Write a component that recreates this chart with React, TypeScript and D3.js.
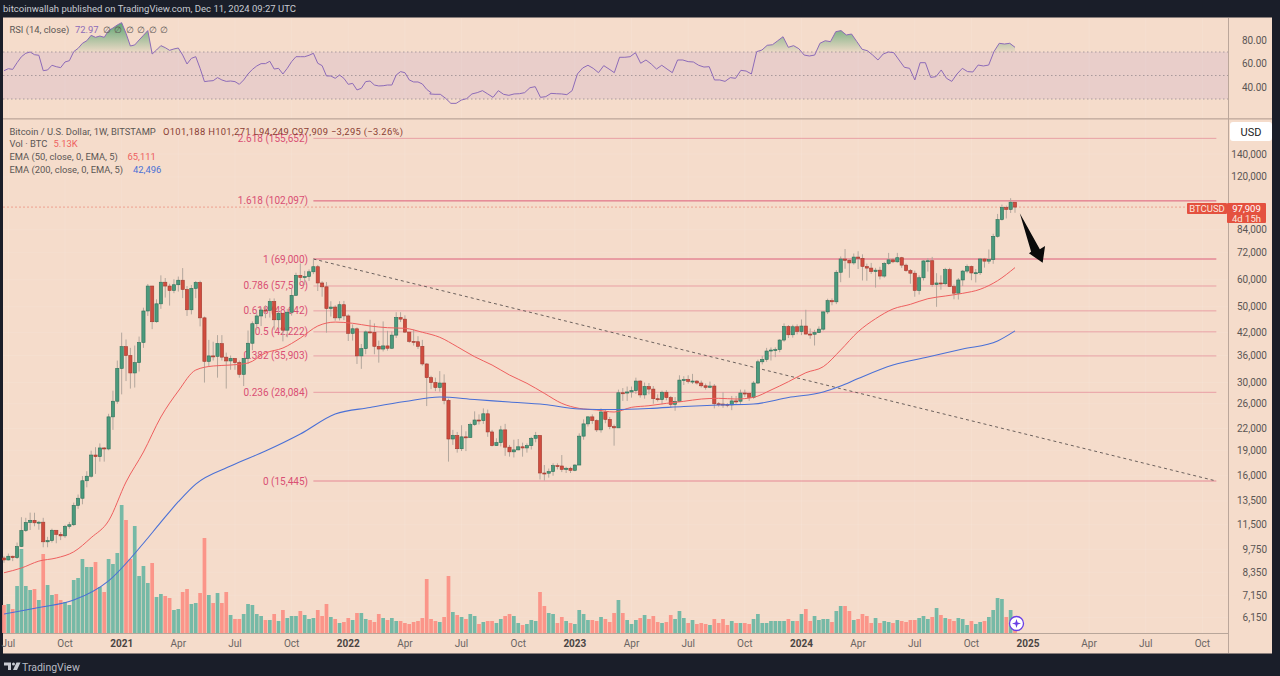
import React from "react";
import * as d3 from "d3";

const closes = [
9070,9300,9210,9930,11060,11680,11850,11650,11700,10250,
10330,11080,10780,10670,11380,11500,13100,13750,15470,15950,
18400,18200,19300,19170,23800,26450,33000,38200,36000,32000,
34300,39300,48600,57500,45200,51000,59000,57500,55800,58000,
59800,56200,49000,56600,58900,46400,34600,35900,35800,39000,
35600,34700,35300,34300,31700,35300,39100,44600,47000,48900,
48800,51800,45800,47800,42700,48200,54000,61800,60900,61300,
63300,65500,58700,57200,49400,49900,46400,50700,47000,41800,
43100,35900,37700,42200,42100,38300,37600,38400,37800,41300,
46500,46000,42150,39600,39500,38300,34000,31000,30000,29000,
29900,26600,20500,21000,19200,20800,20700,22600,23300,23200,
24300,21500,19600,20000,21800,19400,18800,19050,19450,19300,
19600,20600,21000,16300,16280,16450,17130,17090,16700,16830,
16600,17200,20900,22700,23800,23200,21800,24600,23400,22300,
22100,28000,27950,28150,28400,30300,27600,29200,28700,26900,
26750,28100,27100,25900,26400,30500,30600,30250,30300,29900,
29350,29050,29300,26000,25950,25900,25800,26500,26450,27950,
27900,27150,29900,34500,35050,37100,37350,37450,39950,43800,
41400,43700,42300,43900,41600,41550,42000,43000,48300,52100,
51700,63100,69000,68400,67200,69900,69300,65600,64900,63400,
64000,61500,66900,68600,67700,69600,66200,63800,62700,55850,
60800,68100,68200,58100,58700,58400,64200,57300,54800,59900,
63600,65600,62800,62900,69000,68000,68700,80400,90000,97700,
96400,101188,97909];
const highs = [
9300,9470,9340,10200,12100,12050,12480,12470,11800,12050,
10600,11200,10990,10950,11490,11720,13350,14100,15970,16500,
18950,19400,19900,19400,24300,28400,34800,42000,40100,37900,
38500,40900,49700,58300,57600,52600,61800,60700,58400,60200,
61300,64900,57500,57900,59500,59600,46800,40000,39500,41300,
41300,36700,36000,35200,34800,35400,42600,45300,48100,49800,
50500,52900,52900,48800,47900,49300,56500,62900,67000,63700,
64300,69000,66300,59400,59100,51900,50500,51900,52000,47500,
44400,43500,38900,42600,45800,44700,39800,45300,42500,42300,
48200,48200,47200,41500,42900,41000,40000,34200,31400,31000,
32400,31700,26900,21800,21500,22500,21600,22900,24700,24200,
25200,25000,21800,20600,22400,22700,19700,20400,20500,20000,
19900,20800,21500,21000,17200,16800,17400,17400,18400,17000,
17000,17300,21300,23400,23900,24200,23400,25200,25000,23800,
22600,28600,28900,29200,29200,31000,30500,30000,29900,29300,
27700,28400,28500,27400,27200,31500,31300,31500,31800,30500,
30400,29800,30200,29700,26300,28100,26100,27400,27400,28600,
28600,28000,30300,35000,35900,37900,38000,38000,40200,44700,
44200,44300,44400,45900,49000,43200,42800,43800,48500,52800,
52900,64000,70200,73800,68900,71600,72700,71200,66900,67200,
65000,65500,67700,71900,69500,71900,70000,66900,64500,63800,
61800,68400,69400,70000,62700,61800,65000,65000,58100,60700,
64100,66500,66000,64500,69500,69500,73600,81800,93500,99600,
98900,104000,101271];
const lows = [
8900,9040,9000,9130,9900,10950,11100,11380,11120,9880,
9880,10200,10150,10370,10530,11200,11400,12800,13200,14800,
15800,16200,17600,17600,19000,21800,26000,27700,30300,28800,
29000,32300,37900,47000,43000,44900,49300,53200,50400,54800,
55400,53000,47000,47500,53000,43800,30000,33400,34800,31000,
34800,28800,32700,32700,31000,29300,34000,37300,42800,43900,
46300,46500,42800,43300,39600,40700,47100,53900,59600,58000,
59500,62300,55600,53500,42000,46800,45500,45600,45700,39700,
39800,34000,32900,36300,41800,36300,34300,37000,37200,37600,
40500,45100,41900,39200,38500,37600,33600,25600,28700,28300,
28200,25900,17600,19700,18700,18900,18900,20700,22400,22600,
22700,20800,19500,19600,19500,18300,18200,18100,19000,18200,
18700,19100,20050,15600,15500,15800,16000,16700,16400,16300,
16300,16500,17300,20400,22300,22700,21500,21400,22800,21900,
19600,26600,26500,26500,27100,27800,27100,26900,27700,26000,
26400,25900,26600,25400,24800,26300,29500,29800,29700,29600,
29000,28600,28900,25200,25500,25300,25400,24900,26000,26000,
27200,26500,26900,29700,33900,34500,34800,35600,36800,39500,
40500,40600,41500,41300,41500,40300,38500,41900,42600,47600,
50500,50900,59000,64600,60800,66400,64500,59700,59600,62400,
56900,60100,60800,66300,67100,67300,65000,63300,58400,53500,
54300,59700,63400,57200,50000,56100,57800,57200,52600,52500,
57500,62700,59800,58900,62000,65100,66800,66800,79700,89400,
90700,94100,94249];
const firstOpen = 9190;

const volumes = [
28,29,24,47,84,47,43,44,33,79,48,38,39,33,31,28,53,55,74,66,66,71,46,41,74,69,80,128,113,74,
107,57,67,50,70,36,39,37,35,23,24,41,44,29,30,40,95,38,30,40,30,41,18,14,14,19,29,28,19,17,
13,13,19,12,23,15,17,17,22,18,14,15,23,17,29,16,14,
10,11,15,13,20,20,14,13,11,19,15,13,15,12,12,10,9,11,12,15,54,14,12,11,16,57,21,18,16,14,19,17,9,11,12,12,10,14,17,19,17,10,8,9,13,12,41,27,20,19,10,16,12,10,9,23,19,13,13,12,16,14,11,20,33,20,13,9,13,15,18,14,17,11,10,11,18,14,22,15,10,
13,9,10,9,8,14,10,14,8,12,10,10,10,9,14,19,10,10,12,12,12,12,14,12,12,19,24,12,17,13,14,14,11,22,27,27,22,13,14,19,17,10,15,10,12,11,10,13,12,11,13,13,15,17,14,16,25,18,15,14,12,15,14,8,12,9,11,12,16,23,35,34,16,23,5];

const rsiEarly = [
54.1,55.8,55.2,60.9,66,68.9,70,67.7,67.2,54.1,54.7,58.7,57.5,56.7,61.5,62.6,70.3,73.1,77.4,79.6,84.2,82.5,83.6,82.5,88.2,90.4,93,95,85.9,75.1,76,80.2,84.2,88.2,68.3,71.7,75.4,73.7,71.4,72.6,73.4,67.4,59.8,64.6,66,56.1,44.8,45.3,45.6,48.2,46.2,45,45.3,44.8,42.5,46.2,51.3,55.2,58.1,60.1,60.1,62.1,55.5,56.1,51.3,56.1,61.8,66,66,66,67.2,68.9,60.4,58.4,49.6,49.6,47.6,50.4,47.6,42.5,43.3,37.7,39.1,44.8,45.3,41.9,41.1,41.3,41.9,41.9,50.4,53.3,52.4,46.2,44.5,44.5,42.8,38.2,35.4];
const rsiLate = [
34.3,34,34,30.6,26.3,26.3,29.1,30.3,34.3,35.4,37.1,34.3,31.4,37.1,34,33.1,34.3,34.5,35.4,39.6,40.5,31.4,32,34.8,34.5,34.3,33.7,37.1,51.3,56.4,58.7,56.1,52.4,58.4,55.5,52.4,65.5,65.5,66,69.4,60.4,63.2,59.8,55.5,58.7,55.5,52.4,63.2,63.2,61.8,61.5,58.7,57.2,57.5,46.2,46.2,45,48.2,47.6,54.4,53.8,51.3,70.3,71.7,75.7,76.2,79.6,83,74,75.4,72.8,67.4,66.6,67.4,77.4,79.6,78.8,87.3,88.2,84.5,85.3,78.8,72.3,71.1,67.4,63.2,68.3,70,69.4,63.2,57,56.1,46.2,60.9,60.9,48.4,49,54.7,47.6,45,51.3,56.1,53.3,53,58.9,58.1,58.9,70.3,77.4,76.8,77.4,74];
const rsiLateStartWeek = 97.7;
const rsiLateWeekStep = 1.21;

const ema50Weeks = [0,4,8,12,16,20,24,28,32,36,40,44,48,52,56,60,64,68,72,76,80,84,88,92,96,100,104,108,112,116,120,124,128,132,136,140,144,148,152,156,160,164,168,172,176,180,184,188,192,196,200,204,208,212,216,220,224,228,232];
const ema50Values = [8320,8590,9000,9190,9580,10540,11810,15340,18780,23780,28330,32640,33540,33760,34220,36610,37860,40500,43920,45100,44730,43920,43420,43240,42100,40700,38200,35700,33760,31560,29840,27890,26070,25200,24930,24590,25380,25660,26070,26430,26840,26970,26840,27150,28520,30170,32050,33380,37360,42260,46130,49250,50830,52790,53760,54750,56250,59610,65111];
const ema200Weeks = [0,8,16,24,32,36,40,44,52,60,68,76,84,92,100,108,116,124,132,140,148,156,164,172,180,188,192,196,204,212,220,228,232];
const ema200Values = [6300,6580,6920,7880,10150,11700,13430,15130,17090,18900,21200,24270,25350,26390,27210,26750,26310,25870,25100,25010,25180,25520,25780,25960,27120,28140,29300,30820,33760,35630,37600,39700,42496];

const fibLevels = ["2.618","1.618","1","0.786","0.618","0.5","0.382","0.236","0"];
const fibPrices = [155652,102097,69000,57519,48642,42222,35903,28084,15445];
const fibStrong = [false,true,true,false,false,false,false,false,true];

const priceTicks = [140000,120000,84000,72000,60000,50000,42000,36000,30000,26000,22000,19000,16000,13500,11500,9750,8350,7150,6150];
const rsiTicks = [80,60,40];
const rsiGuides = [70,50,30];
const timeLabels = ["Jul","Oct","2021","Apr","Jul","Oct","2022","Apr","Jul","Oct","2023","Apr","Jul","Oct","2024","Apr","Jul","Oct","2025","Apr","Jul","Oct"];
const timeWeeks = [1,14,27,40,53,66,79,92,105,118,131,144,157,170,183,196,209,222,235,249,262,275];

const arrowWeeks = [233.1,237.7,238.9,238.35,235.2,235.7];
const arrowPrices = [93900,73660,75320,67300,71700,72480];

const trendStart = { week: 71, price: 69000 };
const fibEndWeek = 278.2;

const BG = "#f5dccb";
const FRAME = "#1a1e29";
const UP = "#4a9a7c";
const UP_EDGE = "#2d6f58";
const DOWN = "#d04c3e";
const DOWN_EDGE = "#a23a30";
const WICK = "#b3a79d";
const VOL_UP = "#76b9a6";
const VOL_DOWN = "#fb9589";
const FIB = "#d8466c";
const TXT = "#5b5654";
const FONT = "Roboto, 'Noto Sans', sans-serif";

const x = d3.scaleLinear().domain([0, 232]).range([4, 1015]);
const y = d3.scaleLog().domain([15445, 69000]).range([481, 259]);
const yRsi = d3.scaleLinear().domain([30, 70]).range([99, 52]);
const yVol = d3.scaleLinear().domain([0, 128]).range([633, 505]);
const fmt = d3.format(",");

const opens = closes.map((_, i) => (i === 0 ? firstOpen : closes[i - 1]));

const rsiPoints = [
  ...rsiEarly.map((v, i) => ({ w: i, v })),
  ...rsiLate.map((v, i) => ({ w: Math.min(232, rsiLateStartWeek + i * rsiLateWeekStep), v })),
];
const rsiLine = d3.line<{ w: number; v: number }>().x((d) => x(d.w)).y((d) => yRsi(d.v));
const rsiArea = d3.area<{ w: number; v: number }>().x((d) => x(d.w)).y0(yRsi(70)).y1((d) => yRsi(d.v));
const path50 = d3.line<number>().x((_, i) => x(ema50Weeks[i])).y((d) => y(d)).curve(d3.curveMonotoneX)(ema50Values);
const path200 = d3.line<number>().x((_, i) => x(ema200Weeks[i])).y((d) => y(d)).curve(d3.curveMonotoneX)(ema200Values);
const arrowPath = d3.line<number>().x((w) => x(w)).y((_, i) => y(arrowPrices[i])).curve(d3.curveLinearClosed)(arrowWeeks);

const T = (p: any) => <text fontFamily={FONT} fontSize={10} fill={TXT} {...p} />;
const L = (p: any) => <T fontSize={9.4} {...p} />;

export default function App() {
  const bodyW = 3.2;
  const volW = 3.7;
  return (
    <svg width={1280} height={676} style={{ position: "absolute", left: 0, top: 0, display: "block" }}>
      <defs>
        <linearGradient id="ob" gradientUnits="userSpaceOnUse" x1="0" y1="22" x2="0" y2="52">
          <stop offset="0" stopColor="#3f9a60" stopOpacity={0.85} />
          <stop offset="1" stopColor="#3f9a60" stopOpacity={0.05} />
        </linearGradient>
        <clipPath id="aboveOb"><rect x={3} y={18} width={1225} height={yRsi(70) - 18} /></clipPath>
      </defs>
      <rect width={1280} height={676} fill={FRAME} />
      <rect x={3} y={17.5} width={1269} height={636} fill={BG} />

      {/* grid */}
      {timeWeeks.map((w, i) => (
        <line key={i} x1={x(w)} x2={x(w)} y1={18} y2={633} stroke="#fff" strokeOpacity={0.1} />
      ))}
      {priceTicks.map((p, i) => (
        <line key={i} x1={3} x2={1228} y1={y(p)} y2={y(p)} stroke="#fff" strokeOpacity={0.09} />
      ))}

      {/* header */}
      <text x={3} y={12} fontFamily={FONT} fontSize={9.5} fill="#c8cbd2">
        bitcoinwallah published on TradingView.com, Dec 11, 2024 09:27 UTC
      </text>

      {/* RSI pane */}
      <rect x={3} y={yRsi(70)} width={1225} height={yRsi(30) - yRsi(70)} fill="#7e57c2" fillOpacity={0.1} />
      {rsiGuides.map((g) => (
        <line key={g} x1={3} x2={1228} y1={yRsi(g)} y2={yRsi(g)} stroke="#a89a9c" strokeWidth={1} strokeDasharray="1.5 2.5" />
      ))}
      <path d={rsiArea(rsiPoints) ?? ""} fill="url(#ob)" clipPath="url(#aboveOb)" />
      <path d={rsiLine(rsiPoints) ?? ""} fill="none" stroke="#8d6bb8" strokeWidth={1} />
      <L x={9.5} y={32.5}>RSI (14, close)</L>
      <L x={75} y={32.5} fill="#8d6bb8">72.97</L>
      {[107, 118, 130, 141, 153, 164].map((px) => (
        <T key={px} x={px} y={32.5} textAnchor="middle" fontSize={9}>∅</T>
      ))}
      {rsiTicks.map((t) => (
        <T key={t} x={1267} y={yRsi(t) + 3.5} textAnchor="end">{t.toFixed(2)}</T>
      ))}

      <rect x={3} y={118} width={1269} height={1.6} fill="#c9b2a5" />
      <rect x={1228} y={18} width={1} height={635} fill="#bba69a" />

      {/* fib levels */}
      {fibLevels.map((lv, i) => (
        <g key={lv}>
          <line x1={x(trendStart.week)} x2={x(fibEndWeek)} y1={y(fibPrices[i])} y2={y(fibPrices[i])}
            stroke={FIB} strokeOpacity={fibStrong[i] ? (lv === "0" ? 0.55 : 0.85) : 0.4} strokeWidth={1} />
          <T x={308} y={y(fibPrices[i]) + 3.5} textAnchor="end" fill="#d94f74">{`${lv} (${fmt(fibPrices[i])})`}</T>
        </g>
      ))}
      <line x1={3} x2={1228} y1={y(97909)} y2={y(97909)} stroke="#e8604f" strokeOpacity={0.6} strokeWidth={0.8} strokeDasharray="2 2" />

      {/* volume */}
      {volumes.map((v, i) => (
        <rect key={i} x={x(i) - volW / 2} width={volW} y={yVol(v)} height={yVol(0) - yVol(v)}
          fill={closes[i] >= opens[i] ? VOL_UP : VOL_DOWN} />
      ))}
      <line x1={3} x2={1228} y1={633.5} y2={633.5} stroke="#b8a69a" strokeWidth={1} />

      {/* trend line */}
      <line x1={x(trendStart.week)} y1={y(trendStart.price)} x2={x(fibEndWeek)} y2={y(15445)}
        stroke="#5b5250" strokeWidth={0.9} strokeDasharray="3 3" />

      {/* candles */}
      {closes.map((c, i) => {
        const o = opens[i];
        const up = c >= o;
        const top = y(Math.max(o, c));
        const bot = y(Math.min(o, c));
        return (
          <g key={i}>
            <line x1={x(i)} x2={x(i)} y1={y(highs[i])} y2={y(lows[i])} stroke={WICK} strokeWidth={1} />
            <rect x={x(i) - bodyW / 2} width={bodyW} y={top} height={Math.max(1, bot - top)}
              fill={up ? UP : DOWN} stroke={up ? UP_EDGE : DOWN_EDGE} strokeWidth={0.6} />
          </g>
        );
      })}

      {/* EMAs */}
      <path d={path50 ?? ""} fill="none" stroke="#ee5f5f" strokeWidth={1} />
      <path d={path200 ?? ""} fill="none" stroke="#4a70d6" strokeWidth={1.1} />

      {/* arrow */}
      <path d={arrowPath ?? ""} fill="#0a0a0a" />

      {/* legend */}
      <L x={9.5} y={134.5}>Bitcoin / U.S. Dollar, 1W, BITSTAMP</L>
      <L x={163} y={134.5} fill="#8a3d33" textLength={240} lengthAdjust="spacing">O101,188  H101,271  L94,249  C97,909  −3,295 (−3.26%)</L>
      <L x={9.5} y={147}>Vol · BTC</L>
      <L x={53.5} y={147} fill="#ee5f5f">5.13K</L>
      <L x={9.5} y={160}>EMA (50, close, 0, EMA, 5)</L>
      <L x={127.5} y={160} fill="#ee5f5f">65,111</L>
      <L x={9.5} y={172.5}>EMA (200, close, 0, EMA, 5)</L>
      <L x={133} y={172.5} fill="#4a70d6">42,496</L>

      {/* price axis */}
      {priceTicks.map((p) => (
        <T key={p} x={1267} y={y(p) + 3.5} textAnchor="end">{fmt(p)}</T>
      ))}
      <rect x={1230} y={122} width={42} height={19} rx={3} fill="#fff" />
      <T x={1251} y={135.5} textAnchor="middle" fontSize={11} fill="#222">USD</T>
      <rect x={1187} y={203} width={40} height={11} rx={1} fill="#e4513f" />
      <T x={1207} y={212} textAnchor="middle" fill="#fbe6dd" fontSize={9.5}>BTCUSD</T>
      <rect x={1227} y={203} width={39} height={20} rx={1} fill="#e4513f" />
      <T x={1246.5} y={212} textAnchor="middle" fill="#fff" fontSize={9.5}>{fmt(97909)}</T>
      <T x={1246.5} y={221.5} textAnchor="middle" fill="#fbe6dd" fontSize={9.5}>4d 15h</T>

      {/* time axis */}
      {timeLabels.map((t, i) => {
        const bold = /^\d/.test(t);
        return (
          <T key={i} x={x(timeWeeks[i])} y={647} textAnchor="middle" fontWeight={bold ? 700 : 400} fill={bold ? "#4a4543" : "#6a6462"}>{t}</T>
        );
      })}

      {/* assistant icon */}
      <circle cx={1016.5} cy={623.5} r={7} fill="#fff" stroke="#6a3fe6" strokeWidth={1.3} />
      <path d="M1016.5 619 L1017.6 622.4 L1021 623.5 L1017.6 624.6 L1016.5 628 L1015.4 624.6 L1012 623.5 L1015.4 622.4 Z" fill="#6a3fe6" />

      {/* footer */}
      <g fill="#c8cbd2">
        <path d="M4 662.5 H11 V670 H8 V665.5 H4 Z" />
        <circle cx={13.5} cy={664} r={1.5} />
        <path d="M16.5 662.5 H20.5 L17 670 H13 Z" />
      </g>
      <text x={22} y={670.5} fontFamily={FONT} fontSize={10.5} fill="#b8bbc3">TradingView</text>
    </svg>
  );
}
